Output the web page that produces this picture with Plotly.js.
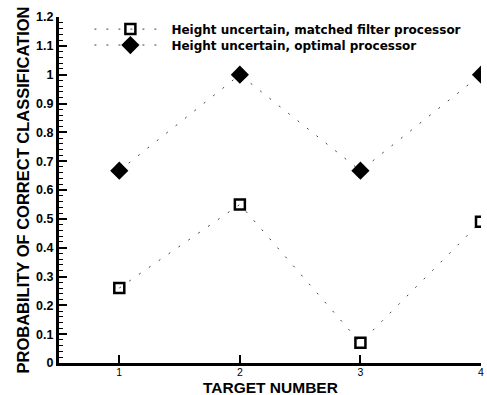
<!DOCTYPE html>
<html><head><meta charset="utf-8">
<script src="https://cdn.plot.ly/plotly-3.0.1.min.js"></script>
<style>html,body{margin:0;padding:0;background:#fff}</style>
</head><body>
<div id="chart" style="width:487px;height:395px"></div>
<script>
const targets = [1, 2, 3, 4];
const matchedFilter = [0.26, 0.55, 0.07, 0.49];
const optimal = [0.667, 1.0, 0.667, 1.0];
const seriesNames = ['Height uncertain, matched filter processor', 'Height uncertain, optimal processor'];
const yTickVals = [0,0.1,0.2,0.3,0.4,0.5,0.6,0.7,0.8,0.9,1,1.1,1.2];
const yTickText = ['0','0.1','0.2','0.3','0.4','0.5','0.6','0.7','0.8','0.9','1','1.1','1.2'];
const xTickVals = [1,2,3,4];
const xTickText = ['1','2','3','4'];

const lineStyle = {color:'#444', width:1, dash:'2px,10px'};
const data = [
  {x: targets, y: matchedFilter, mode:'lines+markers', name:'<b>'+seriesNames[0]+'</b>', legend:'legend',
   line: lineStyle, marker:{symbol:'square-open', size:10, color:'#000', line:{width:2.5, color:'#000'}}},
  {x: targets, y: optimal, mode:'lines+markers', name:'<b>'+seriesNames[1]+'</b>', legend:'legend2',
   line: lineStyle, marker:{symbol:'diamond', size:14, color:'#000'}}
];
const legendBase = {x:0.072, xanchor:'left', yanchor:'middle', bgcolor:'rgba(0,0,0,0)',
          font:{family:'DejaVu Sans, sans-serif', size:12, color:'#000'}, itemwidth:72};
const layout = {
  width:487, height:395,
  margin:{l:59, r:6, t:17, b:32},
  paper_bgcolor:'#fff', plot_bgcolor:'#fff',
  showlegend:true,
  legend: Object.assign({}, legendBase, {y:0.965}),
  legend2: Object.assign({}, legendBase, {y:0.919}),
  font:{family:'Liberation Sans, Arial, sans-serif', color:'#000'},
  xaxis:{range:[0.5,4], tickvals:xTickVals, ticktext:xTickText, ticks:'inside', ticklen:8, tickwidth:2,
         tickcolor:'#000', showline:true, linewidth:3, linecolor:'#000', showgrid:false, zeroline:false,
         tickfont:{size:10.5, color:'#000'}, ticklabelstandoff:-3},
  yaxis:{range:[0,1.2], tickvals:yTickVals, ticktext:yTickText.map(t=>'<b>'+t+'</b>'), ticks:'inside', ticklen:8, tickwidth:2,
         tickcolor:'#000', showline:true, linewidth:3, linecolor:'#000', showgrid:false, zeroline:false,
         tickfont:{size:12.5, color:'#000'},
         minor:{dtick:0.02, ticks:'inside', ticklen:4, tickwidth:1, tickcolor:'#000'},
         title:{text:'<b>PROBABILITY OF CORRECT CLASSIFICATION</b>', font:{size:16.5, color:'#000'}, standoff:3}},
  annotations:[{xref:'paper', yref:'paper', x:0.5, y:0, yshift:-14, xanchor:'center', yanchor:'top',
    text:'<b>TARGET NUMBER</b>', showarrow:false, font:{size:15.5, color:'#000'}}]
};
Plotly.newPlot('chart', data, layout, {displayModeBar:false, staticPlot:true});
</script>
</body></html>
